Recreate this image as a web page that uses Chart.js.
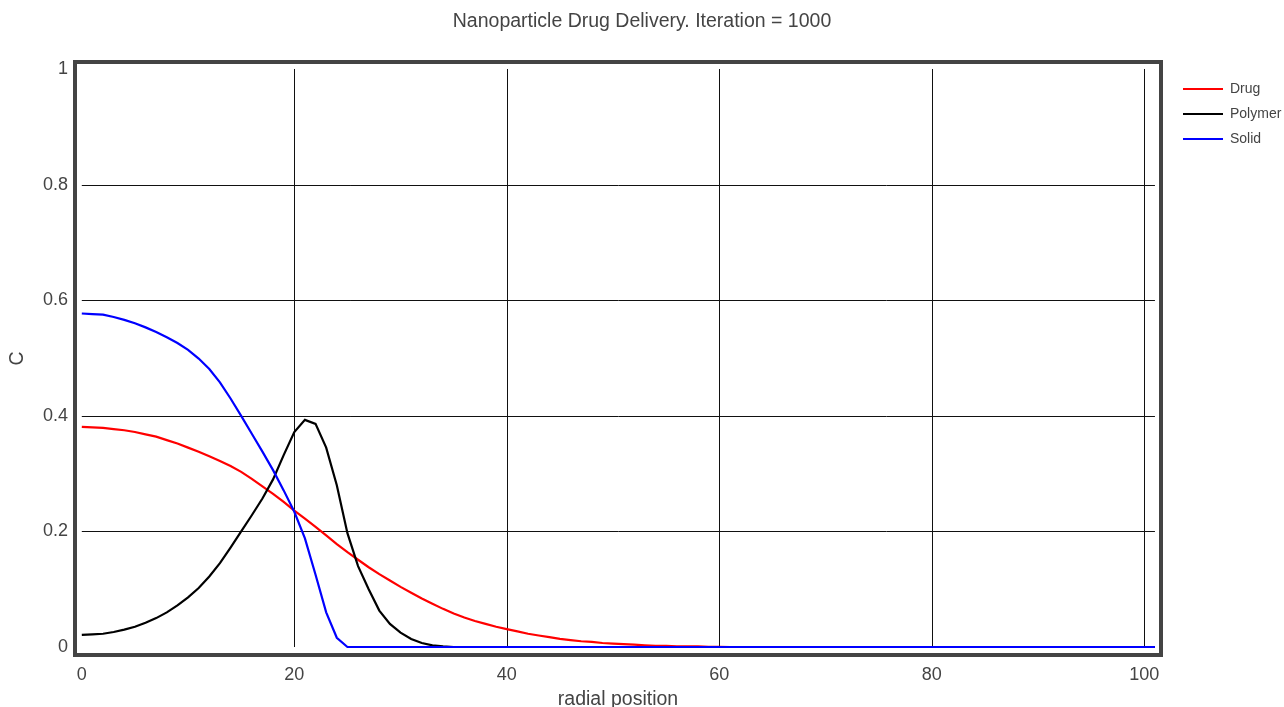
<!DOCTYPE html>
<html lang="en">

<head>
    <meta charset="UTF-8">
    <title>Nanoparticle Drug Delivery</title>
    <script src="https://cdn.jsdelivr.net/npm/chart.js"></script>
    <style>
        body {
            margin: 0;
            background: #fff;
        }

        #wrap {
            width: 1284px;
            height: 707px;
        }
    </style>
</head>

<body>
    <div id="wrap">
        <canvas id="chart" width="1284" height="707"></canvas>
    </div>

    <script>
        const FONT = "'Liberation Sans', Arial, sans-serif";
        const TEXT = '#444';

        // radial positions
        const radial = [0, 1, 2, 3, 4, 5, 6, 7, 8, 9, 10, 11, 12, 13, 14, 15, 16, 17, 18, 19,
            20, 21, 22, 23, 24, 25, 26, 27, 28, 29, 30, 31, 32, 33, 34, 35, 36, 37, 38, 39,
            40, 41, 42, 43, 44, 45, 46, 47, 48, 49, 50, 51, 52, 53, 54, 55, 56, 57, 58, 59,
            60, 61, 62, 63, 64, 65, 66, 67, 68, 69, 70, 71, 72, 73, 74, 75, 76, 77, 78, 79,
            80, 81, 82, 83, 84, 85, 86, 87, 88, 89, 90, 91, 92, 93, 94, 95, 96, 97, 98, 99,
            100, 101];

        const drug = [0.381, 0.380, 0.379, 0.377, 0.375, 0.372, 0.368, 0.364, 0.358, 0.352,
            0.345, 0.338, 0.330, 0.322, 0.313, 0.303, 0.291, 0.278, 0.265, 0.251,
            0.236, 0.222, 0.208, 0.193, 0.178, 0.164, 0.151, 0.138, 0.126, 0.115,
            0.104, 0.094, 0.084, 0.075, 0.066, 0.058, 0.051, 0.045, 0.040, 0.035,
            0.031, 0.027, 0.023, 0.020, 0.017, 0.014, 0.012, 0.010, 0.009, 0.007,
            0.006, 0.005, 0.004, 0.003, 0.002, 0.002, 0.001, 0.001, 0.001, 0.0005,
            0.0003, 0, 0, 0, 0, 0, 0, 0, 0, 0,
            0, 0, 0, 0, 0, 0, 0, 0, 0, 0,
            0, 0, 0, 0, 0, 0, 0, 0, 0, 0,
            0, 0, 0, 0, 0, 0, 0, 0, 0, 0,
            0, 0];

        const polymer = [0.021, 0.022, 0.023, 0.026, 0.030, 0.035, 0.042, 0.050, 0.060, 0.072,
            0.086, 0.102, 0.122, 0.145, 0.172, 0.200, 0.228, 0.257, 0.290, 0.332,
            0.372, 0.393, 0.386, 0.345, 0.280, 0.197, 0.140, 0.100, 0.063, 0.040,
            0.025, 0.014, 0.007, 0.003, 0.001, 0, 0, 0, 0, 0,
            0, 0, 0, 0, 0, 0, 0, 0, 0, 0,
            0, 0, 0, 0, 0, 0, 0, 0, 0, 0,
            0, 0, 0, 0, 0, 0, 0, 0, 0, 0,
            0, 0, 0, 0, 0, 0, 0, 0, 0, 0,
            0, 0, 0, 0, 0, 0, 0, 0, 0, 0,
            0, 0, 0, 0, 0, 0, 0, 0, 0, 0,
            0, 0];

        const solid = [0.577, 0.576, 0.575, 0.571, 0.566, 0.560, 0.553, 0.545, 0.536, 0.526,
            0.514, 0.499, 0.481, 0.458, 0.430, 0.400, 0.369, 0.338, 0.306, 0.271,
            0.234, 0.188, 0.125, 0.060, 0.016, 0, 0, 0, 0, 0,
            0, 0, 0, 0, 0, 0, 0, 0, 0, 0,
            0, 0, 0, 0, 0, 0, 0, 0, 0, 0,
            0, 0, 0, 0, 0, 0, 0, 0, 0, 0,
            0, 0, 0, 0, 0, 0, 0, 0, 0, 0,
            0, 0, 0, 0, 0, 0, 0, 0, 0, 0,
            0, 0, 0, 0, 0, 0, 0, 0, 0, 0,
            0, 0, 0, 0, 0, 0, 0, 0, 0, 0,
            0, 0];

        const xTicks = [0, 20, 40, 60, 80, 100];
        const yTicks = [0, 0.2, 0.4, 0.6, 0.8, 1];
        const yLabels = ['0', '0.2', '0.4', '0.6', '0.8', '1'];
        const xGrid = [20, 40, 60, 80, 100];
        const yGrid = [0.2, 0.4, 0.6, 0.8];

        // gridlines only span the data range, plus the thick frame round the plot
        const plotFrame = {
            id: 'plotFrame',
            beforeDatasetsDraw(chart) {
                const { ctx, scales: { x, y } } = chart;
                const x0 = x.getPixelForValue(0), x1 = x.getPixelForValue(radial[radial.length - 1]);
                const y0 = y.getPixelForValue(0), y1 = y.getPixelForValue(1);
                ctx.save();
                ctx.strokeStyle = '#111';
                ctx.lineWidth = 1;
                ctx.beginPath();
                xGrid.forEach(v => {
                    const px = Math.round(x.getPixelForValue(v)) + 0.5;
                    ctx.moveTo(px, y1);
                    ctx.lineTo(px, y0);
                });
                yGrid.forEach(v => {
                    const py = Math.round(y.getPixelForValue(v)) + 0.5;
                    ctx.moveTo(x0, py);
                    ctx.lineTo(x1, py);
                });
                ctx.stroke();
                ctx.restore();
            },
            afterDraw(chart) {
                const { ctx, chartArea: a } = chart;
                ctx.save();
                ctx.strokeStyle = '#444';
                ctx.lineWidth = 4;
                ctx.strokeRect(a.left, a.top, a.right - a.left, a.bottom - a.top);
                ctx.restore();
            }
        };

        new Chart(document.getElementById('chart').getContext('2d'), {
            type: 'line',
            data: {
                labels: radial,
                datasets: [
                    { label: 'Drug', data: drug, borderColor: '#ff0000', order: 3 },
                    { label: 'Polymer', data: polymer, borderColor: '#000000', order: 2 },
                    { label: 'Solid', data: solid, borderColor: '#0000ff', order: 1 }
                ]
            },
            options: {
                responsive: false,
                animation: false,
                events: [],
                layout: { padding: 0 },
                elements: {
                    point: { radius: 0, borderWidth: 2.2 },
                    line: { borderWidth: 2.2, tension: 0, fill: false }
                },
                plugins: {
                    title: {
                        display: true,
                        text: 'Nanoparticle Drug Delivery. Iteration = 1000',
                        color: TEXT,
                        font: { family: FONT, size: 19.5, weight: 'normal', lineHeight: 1.2 },
                        padding: { top: 9.5, bottom: 29.1 }
                    },
                    legend: {
                        position: 'right',
                        align: 'start',
                        maxWidth: 112,
                        title: { display: true, text: ' ', font: { size: 10, lineHeight: 1 }, padding: { top: 61, bottom: 0 } },
                        labels: {
                            color: TEXT,
                            font: { family: FONT, size: 14 },
                            usePointStyle: true,
                            pointStyle: 'line',
                            pointStyleWidth: 40,
                            padding: 11,
                            sort: (a, b) => a.datasetIndex - b.datasetIndex
                        }
                    },
                    tooltip: { enabled: false }
                },
                scales: {
                    x: {
                        type: 'linear',
                        min: -0.64,
                        max: 101.57,
                        afterBuildTicks: s => { s.ticks = xTicks.map(v => ({ value: v })); },
                        afterFit: s => { s.height = 52; },
                        grid: { display: false, drawTicks: false },
                        border: { display: false },
                        ticks: { color: TEXT, font: { family: FONT, size: 18 }, padding: 9.5, maxRotation: 0 },
                        title: {
                            display: true,
                            text: 'radial position',
                            color: TEXT,
                            font: { family: FONT, size: 19.5, lineHeight: 0.75 },
                            padding: { top: 0, bottom: 0 }
                        }
                    },
                    y: {
                        min: -0.0138,
                        max: 1.0121,
                        afterBuildTicks: s => { s.ticks = yTicks.map(v => ({ value: v })); },
                        afterFit: s => { s.width = 75; },
                        grid: { display: false, drawTicks: false },
                        border: { display: false },
                        ticks: {
                            color: TEXT,
                            font: { family: FONT, size: 18 },
                            padding: 7,
                            callback: v => yLabels[yTicks.indexOf(v)]
                        },
                        title: {
                            display: true,
                            text: 'C',
                            color: TEXT,
                            font: { family: FONT, size: 19.5, lineHeight: 1.2 },
                            padding: { top: 6, bottom: 0 }
                        }
                    },
                    // empty strip between the plot frame and the legend
                    gap: {
                        type: 'linear',
                        position: 'right',
                        grid: { display: false, drawTicks: false },
                        border: { display: false },
                        ticks: { display: false },
                        afterFit: s => { s.width = 11; }
                    }
                }
            },
            plugins: [plotFrame]
        });
    </script>
</body>

</html>
